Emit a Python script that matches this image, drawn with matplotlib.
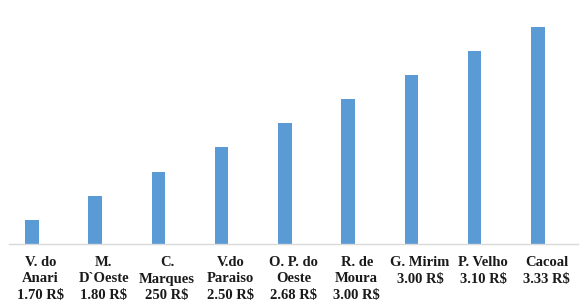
import numpy as np
import matplotlib.pyplot as plt

plt.rcParams['text.parse_math'] = False

# data
towns = ['V. do\nAnari', 'M.\nD`Oeste', 'C.\nMarques', 'V.do\nParaiso', 'O. P. do\nOeste',
         'R. de\nMoura', 'G. Mirim', 'P. Velho', 'Cacoal']
prices = ['1.70', '1.80', '250', '2.50', '2.68', '3.00', '3.00', '3.10', '3.33']
ranks = [1, 2, 3, 4, 5, 6, 7, 8, 9]

labels = [t + '\n' + p + ' R$' for t, p in zip(towns, prices)]
x = np.arange(len(ranks))

fig = plt.figure(figsize=(5.88, 3.04), dpi=100)
ax = fig.add_axes([9 / 588, 60 / 304, 569 / 588, 244 / 304])

ax.bar(x - 0.136, ranks, width=0.215, color='#5B9BD5')
ax.set_xlim(-0.5, len(ranks) - 0.5)
ax.set_ylim(0, 10.1)

ax.set_xticks(x)
ax.set_xticklabels(labels, family='Liberation Serif', fontweight='bold',
                   fontsize=10.5, color='#1a1a1a', linespacing=1.3, va='top')
ax.tick_params(axis='x', length=0, pad=9)
ax.set_yticks([])

for s in ['top', 'right', 'left']:
    ax.spines[s].set_visible(False)
ax.spines['bottom'].set_color('#D9D9D9')
ax.spines['bottom'].set_linewidth(1)

fig.savefig('out.png', dpi=100)
